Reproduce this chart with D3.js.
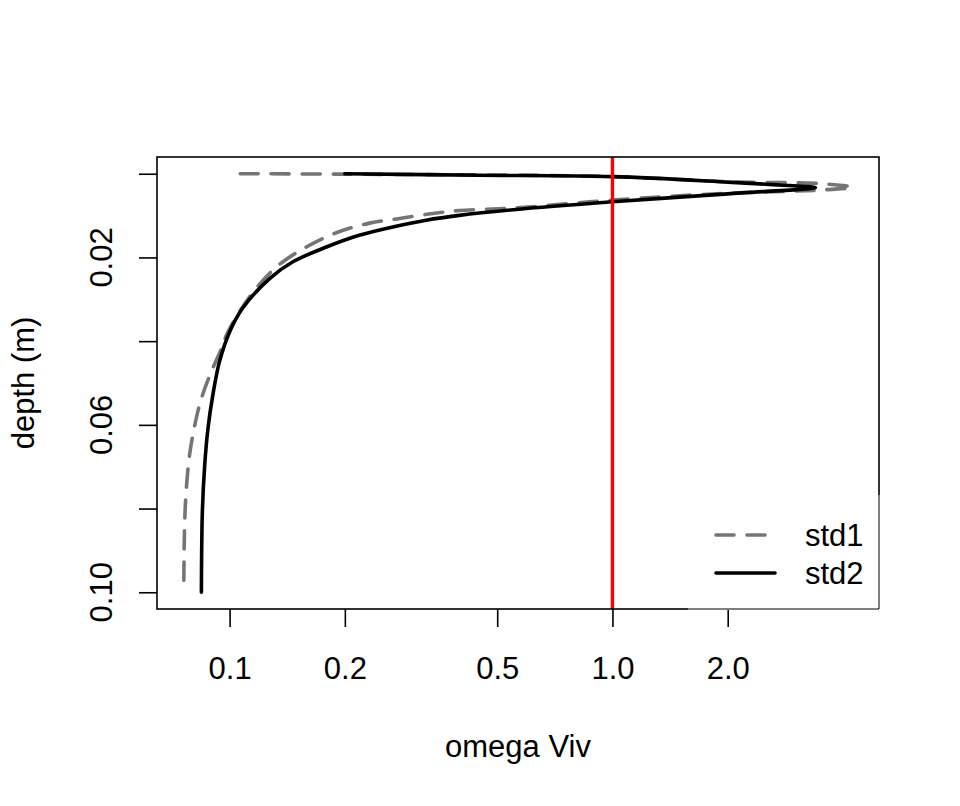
<!DOCTYPE html>
<html>
<head>
<meta charset="utf-8">
<script src="https://cdn.jsdelivr.net/npm/d3@7"></script>
<style>
  body { margin: 0; background: #fff; }
  svg { display: block; }
  text { font-family: "Liberation Sans", Arial, sans-serif; fill: #000; }
</style>
</head>
<body>
<svg id="chart" width="960" height="806"></svg>
<script>
'use strict';

// depth (m) and omega Viv
var std1Depth = [0, 0.0001, 0.0007, 0.0019, 0.0024, 0.0032, 0.0039, 0.00465, 0.0063, 0.0082,
    0.0088, 0.0095, 0.0107, 0.0118, 0.0141, 0.0175, 0.0223, 0.0294, 0.0378, 0.0418,
    0.0473, 0.0537, 0.0601, 0.0672, 0.0752, 0.0839, 0.1];
var std1Omega = [0.1066, 0.2, 1.0, 2.0, 3.54, 4.23, 3.47, 2.0, 1.0, 0.551,
    0.398, 0.339, 0.278, 0.232, 0.190, 0.1586, 0.1324, 0.1128, 0.099, 0.0952,
    0.0896, 0.0844, 0.0811, 0.0786, 0.0771, 0.0763, 0.0759];

var std2Depth = [0, 0.00036, 0.0007, 0.0020, 0.0027, 0.0033, 0.0048, 0.0067, 0.0086, 0.00995,
    0.0111, 0.0127, 0.0147, 0.0175, 0.0211, 0.0251, 0.0322, 0.0378, 0.0449, 0.0529,
    0.0609, 0.0696, 0.0807, 0.1];
var std2Omega = [0.200, 0.450, 1.0, 2.0, 2.73, 3.39, 2.0, 1.0, 0.551, 0.398,
    0.326, 0.267, 0.218, 0.179, 0.146, 0.127, 0.108, 0.100, 0.0941, 0.0904,
    0.0878, 0.0861, 0.0849, 0.0844];

var xTicks = [0.1, 0.2, 0.5, 1.0, 2.0];
var xTickLabels = ['0.1', '0.2', '0.5', '1.0', '2.0'];
var yTicks = [0, 0.02, 0.04, 0.06, 0.08, 0.10];
var yTickLabels = ['', '0.02', '', '0.06', '', '0.10'];
var refLine = [1.0];
var seriesNames = ['std1', 'std2'];

var series = [
    { name: seriesNames[0], pts: d3.zip(std1Depth, std1Omega), color: '#757575', dash: '18,13' },
    { name: seriesNames[1], pts: d3.zip(std2Depth, std2Omega), color: '#000', dash: null }
];

var box = { left: 157, right: 879, top: 157, bottom: 609 };
var fontSize = 31;

// R style 4% padding of the data range, in log space for x
var allX = std1Omega.concat(std2Omega);
var lx = [Math.log10(d3.min(allX)), Math.log10(d3.max(allX))];
var px = (lx[1] - lx[0]) * 0.04;
var x = d3.scaleLog()
    .domain([Math.pow(10, lx[0] - px), Math.pow(10, lx[1] + px)])
    .range([box.left, box.right]);

var allY = std1Depth.concat(std2Depth);
var ly = d3.extent(allY);
var py = (ly[1] - ly[0]) * 0.04;
var y = d3.scaleLinear()
    .domain([ly[0] - py, ly[1] + py])
    .range([box.top, box.bottom]);

var svg = d3.select('#chart');

// curves
var line = d3.line()
    .x(function(d){ return x(d[1]); })
    .y(function(d){ return y(d[0]); })
    .curve(d3.curveCatmullRom.alpha(0.5));

svg.append('g')
    .selectAll('path')
    .data(series)
    .enter().append('path')
        .attr('d', function(d){ return line(d.pts); })
        .attr('fill', 'none')
        .attr('stroke', function(d){ return d.color; })
        .attr('stroke-width', 3.6)
        .attr('stroke-dasharray', function(d){ return d.dash; })
        .attr('stroke-linejoin', 'round')
        .attr('stroke-linecap', 'round');

// red reference line
svg.append('g')
    .selectAll('line')
    .data(refLine)
    .enter().append('line')
        .attr('x1', function(d){ return x(d); })
        .attr('x2', function(d){ return x(d); })
        .attr('y1', box.top)
        .attr('y2', box.bottom)
        .attr('stroke', '#ff0000')
        .attr('stroke-width', 3.4);

// frame
svg.append('rect')
    .attr('x', box.left)
    .attr('y', box.top)
    .attr('width', box.right - box.left)
    .attr('height', box.bottom - box.top)
    .attr('fill', 'none')
    .attr('stroke', '#000')
    .attr('stroke-width', 1.6);

// x axis
var xAxis = svg.append('g')
    .attr('transform', 'translate(0,' + box.bottom + ')')
    .call(d3.axisBottom(x)
        .tickValues(xTicks)
        .tickFormat(function(d, i){ return xTickLabels[i]; })
        .tickSize(18)
        .tickSizeOuter(0)
        .tickPadding(30));
xAxis.select('.domain').remove();
xAxis.selectAll('.tick line').attr('stroke', '#000').attr('stroke-width', 1.6);
xAxis.selectAll('.tick text')
    .attr('font-size', fontSize)
    .attr('font-family', '"Liberation Sans", Arial, sans-serif')
    .attr('fill', '#000');

// y axis, labels parallel to the axis
var yAxis = svg.append('g')
    .attr('transform', 'translate(' + box.left + ',0)')
    .call(d3.axisLeft(y)
        .tickValues(yTicks)
        .tickFormat('')
        .tickSize(18)
        .tickSizeOuter(0));
yAxis.select('.domain').remove();
yAxis.selectAll('.tick line').attr('stroke', '#000').attr('stroke-width', 1.6);

svg.append('g')
    .selectAll('text')
    .data(yTicks)
    .enter().append('text')
        .attr('transform', function(d){ return 'translate(112,' + y(d) + ') rotate(-90)'; })
        .attr('text-anchor', 'middle')
        .attr('font-size', fontSize)
        .text(function(d, i){ return yTickLabels[i]; });

// axis titles
svg.append('text')
    .attr('x', (box.left + box.right) / 2)
    .attr('y', 757)
    .attr('text-anchor', 'middle')
    .attr('font-size', fontSize)
    .text('omega Viv');

svg.append('text')
    .attr('transform', 'translate(34,' + (box.top + box.bottom) / 2 + ') rotate(-90)')
    .attr('text-anchor', 'middle')
    .attr('font-size', fontSize)
    .text('depth (m)');

// legend, white box in the bottom right corner
var legend = svg.append('g');
legend.append('rect')
    .attr('x', 688)
    .attr('y', 495)
    .attr('width', box.right - 688 + 1)
    .attr('height', box.bottom - 495 + 1)
    .attr('fill', '#fff');
legend.append('path')
    .attr('d', 'M' + box.right + ',495V' + box.bottom + 'H688')
    .attr('fill', 'none')
    .attr('stroke', '#000')
    .attr('stroke-width', 1);

var item = legend.selectAll('g.item')
    .data(series)
    .enter().append('g')
        .attr('class', 'item')
        .attr('transform', function(d, i){ return 'translate(0,' + (535 + i * 38) + ')'; });
item.append('line')
    .attr('x1', 716)
    .attr('x2', 775)
    .attr('stroke', function(d){ return d.color; })
    .attr('stroke-width', 3.6)
    .attr('stroke-dasharray', function(d){ return d.dash; })
    .attr('stroke-linecap', 'round');
item.append('text')
    .attr('x', 805)
    .attr('y', 11)
    .attr('font-size', fontSize)
    .text(function(d){ return d.name; });
</script>
</body>
</html>
